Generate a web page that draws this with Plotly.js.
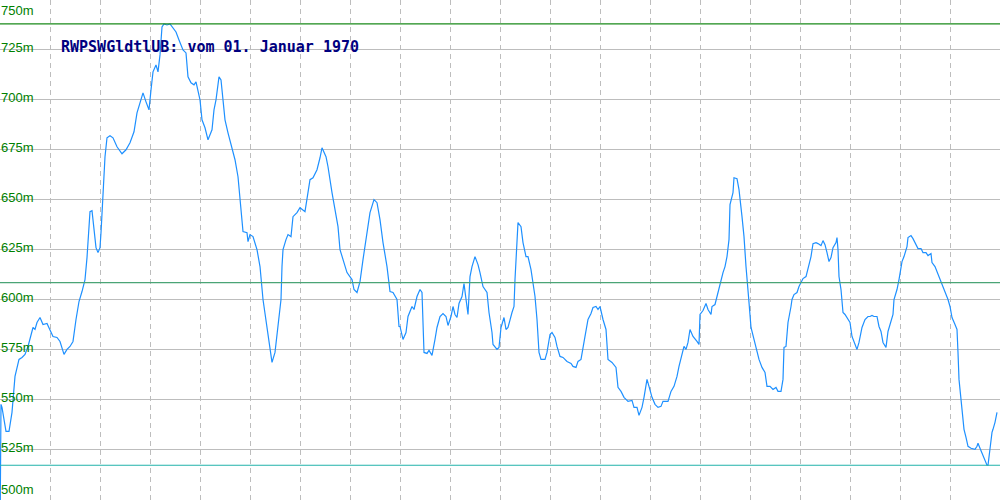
<!DOCTYPE html>
<html>
<head>
<meta charset="utf-8">
<script src="https://cdn.plot.ly/plotly-3.0.1.min.js"></script>
<style>
html,body{margin:0;padding:0;background:#fff;}
#chart{width:1000px;height:500px;}
</style>
</head>
<body>
<div id="chart"></div>
<script>
// Sample positions (days since start) and readings in metres
const days = [0,1,2,4,6,9,12,15,17,19,22,25,28,30,33,35,37,40,43,47,50,53,57,60,64,67,70,73,76,79,82,85,87,89,90,92,94,96,98,100,101,103,105,107,110,113,117,122,126,130,134,137,140,143,146,149,151,153,156,158,160,162,164,167,170,173,176,179,183,186,188,191,194,196,198,200,
202,205,208,212,214,216,219,221,223,225,228,232,235,238,240,242,243,247,248,250,253,257,260,263,267,270,272,275,278,281,282,283,286,288,291,293,297,300,305,307,310,313,317,320,322,326,328,332,335,338,340,343,347,352,354,357,360,363,367,370,374,377,380,383,387,390,393,397,399,
400,403,406,408,412,414,417,420,422,424,427,429,432,435,437,440,443,446,448,451,453,455,457,459,462,464,466,468,470,472,475,478,480,483,487,489,492,493,497,499,501,504,506,508,512,514,515,517,518,521,523,526,528,531,533,535,537,539,541,545,547,550,552,555,557,560,563,567,571,573,576,578,581,583,585,588,591,593,596,598,
600,603,606,608,612,616,618,621,624,628,632,634,637,639,642,644,647,649,652,655,658,661,663,668,671,674,677,679,682,684,686,688,690,693,697,699,700,703,706,708,711,712,715,717,720,723,725,727,729,730,733,734,737,739,742,744,746,747,749,751,754,757,759,762,765,767,770,773,776,778,781,783,784,786,788,791,792,794,797,799,
800,803,806,808,811,813,816,818,821,823,825,827,829,831,833,836,837,838,839,841,843,845,848,850,852,854,857,859,862,865,868,870,872,874,877,879,881,883,886,888,891,893,894,897,899,902,904,907,908,911,913,916,918,921,923,926,928,931,932,935,937,940,943,945,948,950,952,955,957,958,959,961,963,964,966,968,971,975,977,978,980,983,985,987,988,990,992,993,995,997];

const values = [480,547.5,546,540,534,534,543.5,561.5,566.5,570,571,572.5,576.5,580,586,585,588.5,591,587.5,588,585,581.5,581,579,572.5,575,576.5,579,590,599,604,610,621,633.5,644,644.5,633.5,626,623.5,626,633.5,650,671.5,681,682,681,676.5,673,675,678.5,684,693.5,699,703.5,699,695,705,714,717.5,714,722.5,736.5,738,737.5,738,736,734,730,725,723.5,711.5,708.5,707.5,709,703.5,700,
690,686,680,685,695,700,711.5,710,700,690,683.5,676.5,670,661.5,650,636.5,634,633.5,629,632.5,631.5,625,616.5,600,586.5,575,568.5,573.5,586.5,600,616.5,625,630,632.5,631.5,641.5,643.5,646,644,651,660,661,665,671,676,671.5,666.5,653.5,645,636.5,625,620,613.5,610,605,603.5,609,620,633.5,643.5,650,648.5,640,628.5,616.5,604,603.5,600,586.5,
586.5,580,583.5,591.5,596.5,595,601.5,605,603.5,573.5,573,574.5,572,580,586,591.5,593,591.5,587,591.5,596.5,592.5,591,598,601.5,608,599,592.5,611.5,616.5,621.5,617.5,613.5,606.5,603.5,593.5,583.5,577.5,575,576,586,591,585,586,593.5,596.5,610,630,638.5,636.5,628.5,621.5,621.5,615,608.5,601.5,590,573.5,570,570,573.5,582.5,583.5,581,576.5,571.5,571,569,568,566.5,566,569,570,575,581.5,590,593,596,596.5,595,
596.5,590,585,570,568.5,566,556,554,551,549,549.5,546,546,542,546,551,560,556.5,551,547.5,546,546.5,549,549,554,556.5,561.5,566.5,573.5,576.5,575,578.5,585,581.5,579,577.5,592.5,594.5,598,595,592.5,596.5,597.5,601.5,608.5,613.5,616.5,621.5,630,647.5,653.5,661,660.5,655,641.5,631.5,616.5,608.5,598.5,586,580,575,570,566,563.5,556.5,556.5,555,556,554,554,560,576,576.5,588.5,596.5,600,602.5,603.5,606.5,
607.5,610.5,611.5,615,621.5,628,628.5,628,627,629.5,627.5,623.5,619,621,626,628.5,631,625,611.5,605,593.5,592.5,590,588.5,581.5,578.5,575,578.5,586,590,591.5,591.5,592,591.5,591.5,586.5,584,578.5,576,584,588.5,592.5,600,605,610,619,621.5,626.5,631,632,630.5,627.5,625.5,625.5,623.5,623.5,622,623,618.5,616.5,614,610,606.5,603.5,600,596.5,591,587.5,585,573.5,560,550,541.5,535,531,526.5,525.5,525,526.5,528,525.5,522,519,517,517,526,533.5,535,538.5,543.5];

const tickVals = [500,525,550,575,600,625,650,675,700,725,750];
const tickLabels = ["500m","525m","550m","575m","600m","625m","650m","675m","700m","725m","750m"];
const maxLevel = 738;
const meanLevel = 608.5;
const minLevel = 517;
const titleText = "RWPSWGldtlUB: vom 01. Januar 1970";

const trace = {
  x: days, y: values, type: 'scatter', mode: 'lines',
  line: {color: '#1e90ff', width: 1.2},
  hoverinfo: 'skip'
};

const refLine = (v, color) => ({
  type: 'line', xref: 'paper', x0: 0, x1: 1, yref: 'y', y0: v, y1: v,
  line: {color: color, width: 1.2}, layer: 'above'
});

const annotations = tickVals.map((v, i) => {
  let yanchor = 'middle', yshift = 2;
  if (i === tickVals.length - 1) { yanchor = 'top'; yshift = -1; }
  if (i === 0) { yanchor = 'bottom'; yshift = 0; }
  return {
    xref: 'paper', x: 0, xanchor: 'left', xshift: -1,
    yref: 'y', y: v, yanchor: yanchor, yshift: yshift,
    text: tickLabels[i], showarrow: false,
    font: {family: 'Liberation Sans, Arial, sans-serif', size: 13, color: '#008000'}
  };
});
annotations.push({
  xref: 'paper', x: 0.059, xanchor: 'left',
  yref: 'paper', y: 1 - 47.5/500, yanchor: 'middle',
  text: titleText, showarrow: false,
  font: {family: 'DejaVu Sans Mono, monospace', size: 15, color: '#000080', weight: 'bold'}
});

const layout = {
  width: 1000, height: 500,
  margin: {l: 0, r: 0, t: 0, b: 0, pad: 0},
  paper_bgcolor: '#ffffff', plot_bgcolor: '#ffffff',
  showlegend: false,
  xaxis: {
    range: [0, 1000], dtick: 50, tick0: 0,
    showgrid: true, gridcolor: '#bdbdbd', gridwidth: 1, griddash: '5px,4px',
    showticklabels: false, ticks: '', zeroline: false, showline: false, fixedrange: true
  },
  yaxis: {
    range: [499.6, 750], dtick: 25, tick0: 500,
    showgrid: true, gridcolor: '#bdbdbd', gridwidth: 1,
    showticklabels: false, ticks: '', zeroline: false,
    showline: true, linecolor: '#bdbdbd', linewidth: 2, fixedrange: true
  },
  shapes: [
    refLine(maxLevel, '#1a8a1a'),
    refLine(meanLevel, '#4aa476'),
    refLine(minLevel, '#20b2aa')
  ],
  annotations: annotations
};

Plotly.newPlot('chart', [trace], layout, {staticPlot: true, displayModeBar: false});
</script>
</body>
</html>
